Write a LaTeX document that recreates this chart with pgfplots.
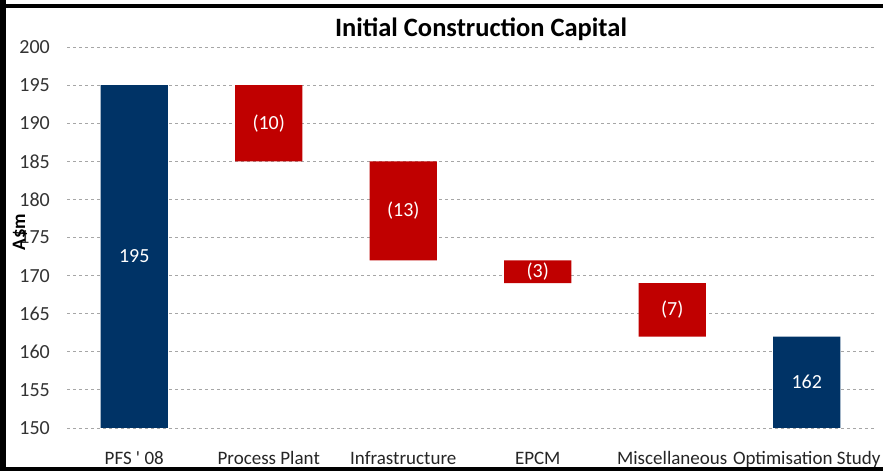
\documentclass[border=0pt]{standalone}
\usepackage{pgfplots}
\pgfplotsset{compat=1.18}
\usepackage{fontspec}
\setmainfont{Carlito}
\definecolor{navy}{RGB}{0,51,102}
\definecolor{barred}{RGB}{192,0,0}
\tikzset{barlab/.style={text=white, font=\fontsize{20}{22}\selectfont}}
\begin{document}
\begin{tikzpicture}[x=1pt,y=1pt]
\path[use as bounding box] (0,0) rectangle (883,471);
\fill[white] (0,0) rectangle (883,471);
\begin{axis}[
  at={(67pt,43pt)}, anchor=south west,
  scale only axis, width=807pt, height=381pt,
  xmin=-0.5, xmax=5.5, ymin=150, ymax=200,
  ytick={150,155,...,200},
  xtick={0,1,2,3,4,5},
  xticklabels={PFS \textquotesingle\ 08, Process Plant, Infrastructure, EPCM, Miscellaneous, Optimisation Study},
  axis line style={draw=none},
  major tick length=0pt,
  ymajorgrids,
  grid style={dashed, gray!70, line width=0.8pt},
  /pgf/number format/assume math mode=true,
  yticklabel style={font=\fontsize{20}{22}\selectfont, color=black!80, anchor=east, inner sep=0pt, xshift=-17pt},
  xticklabel style={font=\fontsize{19}{21}\selectfont, color=black!85, anchor=base, inner sep=0pt, yshift=-37pt},
  ybar stacked, bar width=0.5,
]
\addplot[draw=none, fill=none] coordinates {(0,0) (1,185) (2,172) (3,169) (4,162) (5,0)};
\addplot[draw=none, fill=barred] coordinates {(0,0) (1,10) (2,13) (3,3) (4,7) (5,0)};
\addplot[draw=none, fill=navy] coordinates {(0,195) (1,0) (2,0) (3,0) (4,0) (5,162)};
\coordinate (l0) at (axis cs:0,172.5);
\coordinate (l1) at (axis cs:1,190);
\coordinate (l2) at (axis cs:2,178.5);
\coordinate (l3) at (axis cs:3,170.5);
\coordinate (l4) at (axis cs:4,165.5);
\coordinate (l5) at (axis cs:5,156);
\end{axis}
\node[barlab] at (l0) {195};
\node[barlab] at (l1) {(10)};
\node[barlab] at (l2) {(13)};
\node[barlab] at (l3) {(3)};
\node[barlab] at (l4) {(7)};
\node[barlab] at (l5) {162};
\node[anchor=base, font=\fontsize{26.5}{28}\selectfont\bfseries] at (481,434) {Initial Construction Capital};
\node[rotate=90, font=\fontsize{19}{21}\selectfont\bfseries] at (20,239) {A\$m};
\fill[black] (0,0) rectangle (6,471);
\fill[black] (0,463) rectangle (883,467);
\fill[black] (0,0) rectangle (883,4);
\end{tikzpicture}
\end{document}
